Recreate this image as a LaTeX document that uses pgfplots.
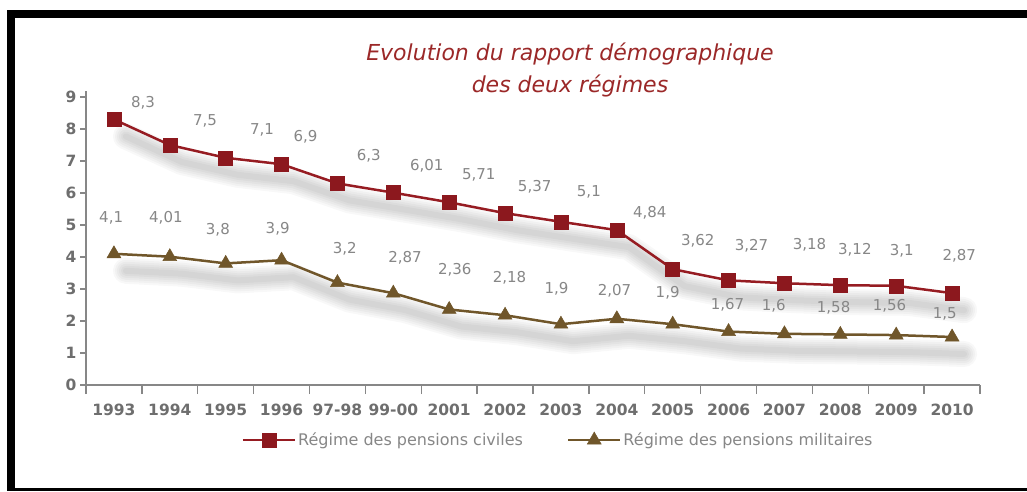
\documentclass[border=0pt]{standalone}
\usepackage{fontspec}
\setmainfont{DejaVu Sans}
\usepackage{pgfplots}
\pgfplotsset{compat=1.18}
\usepackage{pgfplotstable}

\definecolor{civ}{RGB}{150,28,34}
\definecolor{civm}{RGB}{140,24,30}
\definecolor{mil}{RGB}{112,86,42}
\definecolor{txt}{RGB}{135,135,135}
\definecolor{tck}{RGB}{110,110,110}
\definecolor{axc}{RGB}{135,135,135}
\definecolor{ttl}{RGB}{155,40,40}

\pgfplotstableread{
x y
0 8.3
1 7.5
2 7.1
3 6.9
4 6.3
5 6.01
6 5.71
7 5.37
8 5.1
9 4.84
10 3.62
11 3.27
12 3.18
13 3.12
14 3.1
15 2.87
}\civil

\pgfplotstableread{
x y
0 4.1
1 4.01
2 3.8
3 3.9
4 3.2
5 2.87
6 2.36
7 2.18
8 1.9
9 2.07
10 1.9
11 1.67
12 1.6
13 1.58
14 1.56
15 1.5
}\milit

\pgfplotstableread{
x y lab
0.52 8.81 8,3
1.63 8.25 7,5
2.65 7.97 7,1
3.43 7.75 6,9
4.56 7.16 6,3
5.60 6.84 6,01
6.53 6.56 5,71
7.53 6.19 5,37
8.50 6.03 5,1
9.59 5.38 4,84
10.45 4.50 3,62
11.41 4.34 3,27
12.45 4.38 3,18
13.26 4.22 3,12
14.10 4.19 3,1
15.13 4.03 2,87
}\civlab

\pgfplotstableread{
x y lab
-0.05 5.22 4,1
0.93 5.22 4,01
1.86 4.84 3,8
2.93 4.88 3,9
4.13 4.25 3,2
5.21 3.97 2,87
6.10 3.59 2,36
7.08 3.34 2,18
7.92 3.00 1,9
8.96 2.94 2,07
9.91 2.88 1,9
10.98 2.50 1,67
11.81 2.47 1,6
12.88 2.41 1,58
13.88 2.47 1,56
14.87 2.22 1,5
}\millab

\pgfplotsset{shad/.style={forget plot, no markers, draw=black, draw opacity=0.028, line width=#1, line join=round, line cap=round, transform canvas={xshift=12pt, yshift=-17pt}}}

\begin{document}
\begin{tikzpicture}[x=1pt,y=1pt]
\path[use as bounding box, fill=white] (0,0) rectangle (1027,491);
\fill[black] (7,0) rectangle (1027,3);
\fill[black] (7,473) rectangle (1027,481);
\fill[black] (7,0) rectangle (15,481);
\node[text=ttl, font=\fontsize{22}{32}\selectfont\itshape, align=center] at (570,421)
  {Evolution du rapport démographique\\des deux régimes};
\begin{axis}[
  at={(86pt,106pt)}, anchor=south west,
  scale only axis, width=894pt, height=294.4pt,
  xmin=-0.5, xmax=15.5, ymin=0, ymax=9.2,
  clip=false,
  axis x line=bottom, axis y line=left,
  axis line style={-, draw=axc, line width=1.3pt},
  xtick={0,...,15},
  xticklabels={1993,1994,1995,1996,97-98,99-00,2001,2002,2003,2004,2005,2006,2007,2008,2009,2010},
  minor xtick={-0.5,0.5,...,15.5},
  ytick={0,...,9},
  /pgf/number format/assume math mode=true,
  tick align=outside,
  major tick length=6pt, minor tick length=9pt,
  tick style={draw=axc, line width=1.3pt},
  major x tick style={draw=none},
  xticklabel style={font=\fontsize{15.5}{18}\bfseries, text=tck, yshift=-9pt},
  yticklabel style={font=\fontsize{15.5}{18}\bfseries, text=tck},
  legend style={at={(0.528,-0.187)}, anchor=center, draw=none, fill=none,
    font=\fontsize{16}{19}\selectfont, text=txt,
    /tikz/every even column/.append style={column sep=42pt}},
  legend columns=2,
  legend image code/.code={\draw[mark repeat=2,mark phase=2,#1] plot coordinates {(0pt,0pt) (26pt,0pt) (52pt,0pt)};},
]
% shadows
\addplot[shad=26pt] table {\civil};
\addplot[shad=22pt] table {\civil};
\addplot[shad=18pt] table {\civil};
\addplot[shad=14pt] table {\civil};
\addplot[shad=10pt] table {\civil};
\addplot[shad=6pt] table {\civil};
\addplot[shad=26pt] table {\milit};
\addplot[shad=22pt] table {\milit};
\addplot[shad=18pt] table {\milit};
\addplot[shad=14pt] table {\milit};
\addplot[shad=10pt] table {\milit};
\addplot[shad=6pt] table {\milit};
\addplot[color=civ, line width=2.5pt, mark=square*, mark size=7pt, mark options={fill=civm, draw=civm, line width=0.5pt}] table {\civil};
\addlegendentry{Régime des pensions civiles}
\addplot[color=mil, line width=2.5pt, mark=triangle*, mark size=8pt, mark options={fill=mil, draw=mil, line width=0.5pt}] table {\milit};
\addlegendentry{Régime des pensions militaires}
\addplot[forget plot, draw=none, mark=none, nodes near coords, point meta=explicit symbolic,
  every node near coord/.append style={anchor=center, text=txt, font=\fontsize{15}{18}\selectfont, inner sep=0pt}] table[meta=lab] {\civlab};
\addplot[forget plot, draw=none, mark=none, nodes near coords, point meta=explicit symbolic,
  every node near coord/.append style={anchor=center, text=txt, font=\fontsize{15}{18}\selectfont, inner sep=0pt}] table[meta=lab] {\millab};
\end{axis}
\end{tikzpicture}
\end{document}
